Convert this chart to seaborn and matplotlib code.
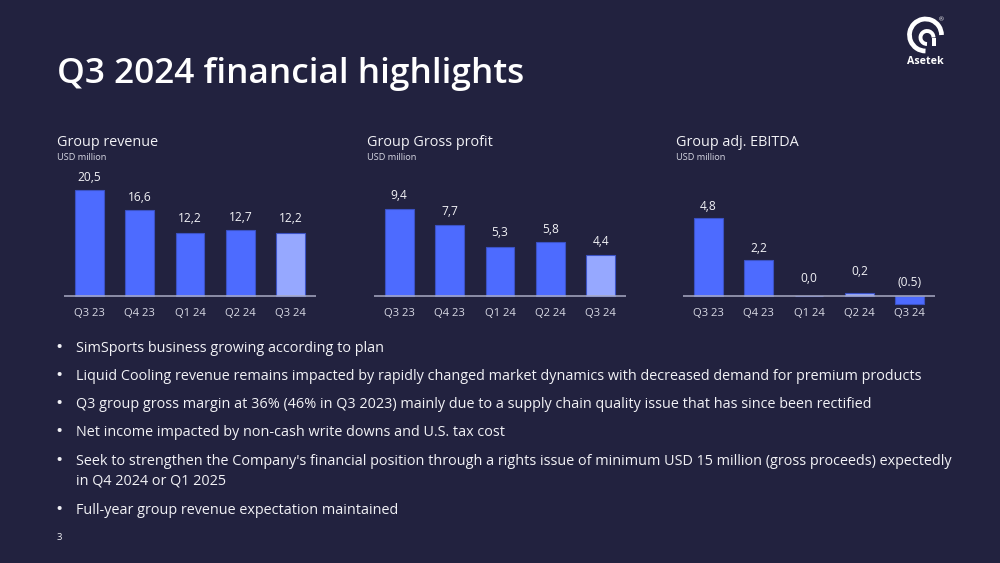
import matplotlib
matplotlib.use("Agg")
import matplotlib.pyplot as plt
from matplotlib.patches import Arc, Rectangle
import pandas as pd
import seaborn as sns

sns.set_theme(style="white")
FONT = ["Open Sans", "DejaVu Sans"]
plt.rcParams["font.family"] = FONT

quarters = ["Q3 23", "Q4 23", "Q1 24", "Q2 24", "Q3 24"]
revenue = [20.5, 16.6, 12.2, 12.7, 12.2]
gross_profit = [9.4, 7.7, 5.3, 5.8, 4.4]
ebitda = [4.8, 2.2, 0.0, 0.2, -0.5]
revenue_labels = ["20,5", "16,6", "12,2", "12,7", "12,2"]
gross_labels = ["9,4", "7,7", "5,3", "5,8", "4,4"]
ebitda_labels = ["4,8", "2,2", "0,0", "0,2", "(0.5)"]
revenue_hl = [0, 0, 0, 0, 1]
gross_hl = [0, 0, 0, 0, 1]
ebitda_hl = [0, 0, 0, 1, 0]
chart_titles = ["Group revenue", "Group Gross profit", "Group adj. EBITDA"]
unit = "USD million"
title = "Q3 2024 financial highlights"
bullets = [
    ["SimSports business growing according to plan"],
    ["Liquid Cooling revenue remains impacted by rapidly changed market dynamics with decreased demand for premium products"],
    ["Q3 group gross margin at 36% (46% in Q3 2023) mainly due to a supply chain quality issue that has since been rectified"],
    ["Net income impacted by non-cash write downs and U.S. tax cost"],
    ["Seek to strengthen the Company's financial position through a rights issue of minimum USD 15 million (gross proceeds) expectedly",
     "in Q4 2024 or Q1 2025"],
    ["Full-year group revenue expectation maintained"],
]

BG = "#22223F"
BLUE = "#4D6BFF"
LIGHT = "#96A8FF"
EDGE = "#3B52C4"
AXIS = "#A9ABC4"
TXT = "#F2F2F6"

W, H = 1000, 563
fig = plt.figure(figsize=(W / 100, H / 100), dpi=100, facecolor=BG)
bg = fig.add_axes([0, 0, 1, 1])
bg.set_xlim(0, W)
bg.set_ylim(H, 0)
bg.axis("off")
bg.set_facecolor(BG)


def t(x, y, s, px, **kw):
    kw.setdefault("color", TXT)
    kw.setdefault("va", "center")
    bg.text(x, y, s, fontsize=px * 0.72, **kw)


t(57, 74, title, 35.2, fontweight="semibold", color="white")

baseline = 296
panels = [
    (64, revenue, revenue_labels, revenue_hl, 5.17, [13, 13, 14, 13, 14]),
    (374, gross_profit, gross_labels, gross_hl, 9.26, [13, 13, 14, 13, 14]),
    (683, ebitda, ebitda_labels, ebitda_hl, 16.25, [12, 12, 18, 21, 13]),
]
top_px, bottom_px = 165, 322
for i, (x0, vals, labs, hl, scale, offs) in enumerate(panels):
    ax = fig.add_axes([x0 / W, 1 - bottom_px / H, 252 / W, (bottom_px - top_px) / H])
    ax.patch.set_alpha(0)
    df = pd.DataFrame({"q": quarters, "v": vals, "h": hl})
    sns.barplot(data=df, x="q", y="v", hue="h", palette={0: BLUE, 1: LIGHT},
                dodge=False, legend=False, width=0.575, ax=ax, saturation=1,
                edgecolor=EDGE, linewidth=0.8)
    ax.set_ylim(-(bottom_px - baseline) / scale, (baseline - top_px) / scale)
    ax.set_xlim(-0.5, 4.5)
    ax.axhline(0, color=AXIS, lw=1.1, zorder=5)
    for s in ax.spines.values():
        s.set_visible(False)
    ax.set_xlabel("")
    ax.set_ylabel("")
    ax.set_yticks([])
    ax.set_xticks([])
    for j, (v, lab) in enumerate(zip(vals, labs)):
        ax.annotate(lab, (j, max(v, 0)), xytext=(0, offs[j] * 0.72),
                    textcoords="offset points", ha="center", va="center",
                    fontsize=12 * 0.72, color=TXT)
        ax.annotate(quarters[j], (j, 0), xytext=(0, -17 * 0.72),
                    textcoords="offset points", ha="center", va="center",
                    fontsize=11.2 * 0.72, color="#D8D9E4", annotation_clip=False)
    t(x0 - 7, 142, chart_titles[i], 14.4)
    t(x0 - 7, 157.5, unit, 9.2, color="#D8D9E4")

ys = [[347], [375], [403], [431], [460, 480], [509]]
for lines, yy in zip(bullets, ys):
    t(55.5, yy[0] + 1, "\u2022", 19)
    for line, y in zip(lines, yy):
        t(76, y + 1.2, line, 14.45)
t(57, 537.5, "3", 9.5)

# logo
lc = "white"
bg.add_patch(Arc((925.5, 35), 32, 32, theta1=90, theta2=360, lw=3.4, color=lc, capstyle="butt"))
bg.add_patch(Arc((927, 37.5), 13, 13, theta1=90, theta2=360, lw=2.8, color=lc, capstyle="butt"))
bg.add_patch(Rectangle((931.5, 37.5), 4, 8, color=lc, lw=0))
t(941, 20, "\u00ae", 6, ha="center", color="white")
t(925, 62, "Asetek", 10.6, ha="center", fontweight="bold", color="white")

fig.savefig("out.png", dpi=100, facecolor=BG)
